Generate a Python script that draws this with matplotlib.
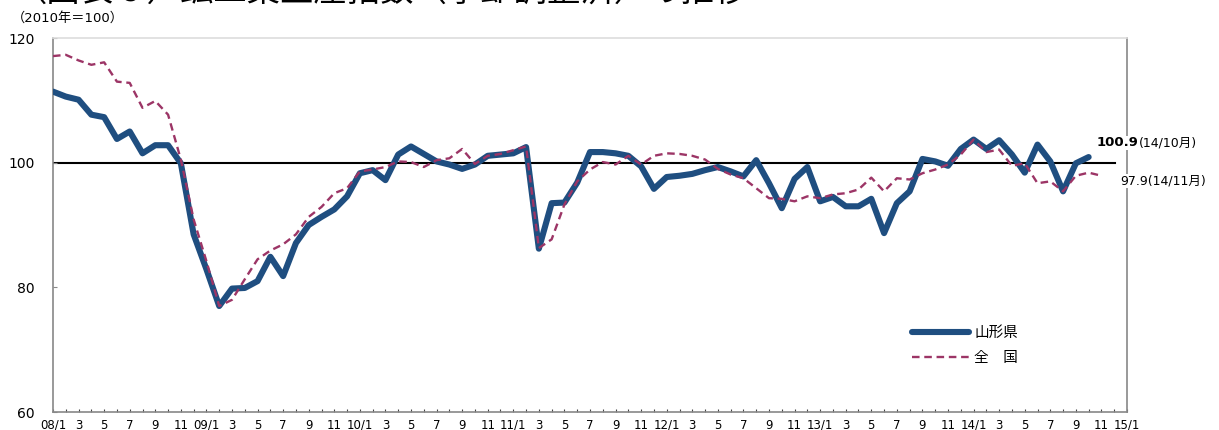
import matplotlib
matplotlib.use("Agg")
import matplotlib.pyplot as plt
from matplotlib.ticker import FixedLocator, MultipleLocator

FAM = ['DejaVu Sans', 'Noto Sans CJK JP']
plt.rcParams['font.family'] = FAM

# Monthly index values, 2008/1 .. 2014/10 (Yamagata) and .. 2014/11 (national)
yamagata = [111.4, 110.6, 110.1, 107.7, 107.3, 103.8, 105.0, 101.5, 102.8, 102.8, 99.9, 88.5,
            82.9, 77.0, 79.8, 79.9, 81.0, 84.9, 81.8, 87.1, 90.0, 91.3, 92.5, 94.6,
            98.3, 98.8, 97.2, 101.3, 102.6, 101.4, 100.2, 99.7, 99.0, 99.7, 101.1, 101.3,
            101.5, 102.5, 86.2, 93.5, 93.6, 96.8, 101.7, 101.7, 101.5, 101.1, 99.4, 95.8,
            97.7, 97.9, 98.2, 98.8, 99.3, 98.6, 97.8, 100.4, 96.7, 92.7, 97.4, 99.3,
            93.8, 94.5, 93.0, 93.0, 94.2, 88.7, 93.5, 95.4, 100.6, 100.2, 99.5, 102.2,
            103.7, 102.2, 103.6, 101.3, 98.4, 102.9, 100.2, 95.4, 99.9, 100.9]
national = [117.1, 117.3, 116.4, 115.7, 116.1, 113.0, 112.8, 108.8, 109.9, 107.7, 100.5, 90.9,
            84.2, 77.0, 78.0, 81.3, 84.5, 85.9, 86.9, 88.5, 91.3, 92.9, 95.1, 95.9,
            98.6, 98.9, 99.3, 100.2, 100.1, 99.3, 100.4, 100.7, 102.2, 99.8, 101.1, 101.4,
            102.0, 102.6, 86.3, 87.7, 93.3, 97.0, 98.9, 100.1, 99.7, 101.1, 99.7, 101.1,
            101.5, 101.4, 101.1, 100.5, 99.0, 98.1, 97.5, 95.9, 94.3, 94.2, 93.8, 94.6,
            94.3, 94.9, 95.1, 95.7, 97.6, 95.4, 97.5, 97.3, 98.3, 98.9, 99.7, 101.3,
            103.7, 101.7, 102.1, 99.5, 99.9, 96.7, 97.0, 95.4, 97.9, 98.4, 97.9]
series_names = ['山形県', '全\u3000国']
y_ticks = [60, 80, 100, 120]

start_year = 8
n_months = 84
tick_pos = list(range(0, n_months + 1, 2))
tick_labels = []
for i in tick_pos:
    m = i % 12 + 1
    if m == 1:
        tick_labels.append(f"{start_year + i // 12:02d}/1")
    else:
        tick_labels.append(str(m))

fig = plt.figure(figsize=(12.19, 4.30), dpi=100)
ax = fig.add_axes([53 / 1219, 1 - 412 / 430, (1127 - 53) / 1219, (412 - 38) / 430])

ax.axhline(100, xmin=0, xmax=(1115 - 53) / (1127 - 53), color='black', lw=1.5, zorder=1)

ax.plot(range(len(yamagata)), yamagata, color='#1f4e80', lw=4.4, solid_joinstyle='round',
        solid_capstyle='round', label=series_names[0], zorder=3)
ax.plot(range(len(national)), national, color='#9c3566', lw=1.7, dashes=(3.2, 2.0),
        label=series_names[1], zorder=4)

ax.set_xlim(0, n_months)
ax.set_ylim(60, 120)
ax.set_yticks(y_ticks)
ax.set_yticklabels([str(v) for v in y_ticks], fontsize=10)
ax.xaxis.set_major_locator(FixedLocator(tick_pos))
ax.set_xticklabels(tick_labels, fontsize=8.5)
ax.xaxis.set_minor_locator(MultipleLocator(1))
ax.tick_params(axis='x', which='both', direction='in', length=2.5, width=0.8, color='#444444', pad=5)
ax.tick_params(axis='y', direction='in', length=3, width=0.8, color='#888888', pad=13)
for s in ax.spines.values():
    s.set_color('#888888')
    s.set_linewidth(1.2)
ax.spines['top'].set_color('#dddddd')

leg = ax.legend(loc='upper left', bbox_to_anchor=(899 / 1219, 1 - 313 / 430),
                bbox_transform=fig.transFigure, frameon=False,
                prop=dict(family=['Noto Sans CJK JP', 'DejaVu Sans'], size=10.5),
                handlelength=3.9, handletextpad=0.35, labelspacing=0.75)

# annotations
t1 = ax.annotate('100.9', xy=(1097 / 1219, 1 - 143 / 430), xycoords='figure fraction',
                 fontsize=9.5, fontweight='bold', va='center', ha='left',
                 bbox=dict(facecolor='white', edgecolor='none', pad=0.5), zorder=6)
ax.annotate('(14/10月)', xy=(1, 0.5), xycoords=t1, fontsize=9, va='center', ha='left',
            bbox=dict(facecolor='white', edgecolor='none', pad=0.5), zorder=6)
ax.annotate('97.9(14/11月)', xy=(1120 / 1219, 1 - 181 / 430), xycoords='figure fraction',
            fontsize=9, va='center', ha='left',
            bbox=dict(facecolor='white', edgecolor='none', pad=0.5), zorder=6)
for t in ax.texts:
    t.set_clip_on(False)

fig.text(12 / 1219, 1 - 18 / 430, '（2010年＝100）', fontsize=9.5, va='center', ha='left')
fig.text(14 / 1219, 1 - 9 / 430, '（図表６）鉱工業生産指数（季節調整済）の推移', fontsize=24,
         va='bottom', ha='left', family=['Noto Sans CJK JP', 'DejaVu Sans'])

fig.savefig('out.png', dpi=100)
